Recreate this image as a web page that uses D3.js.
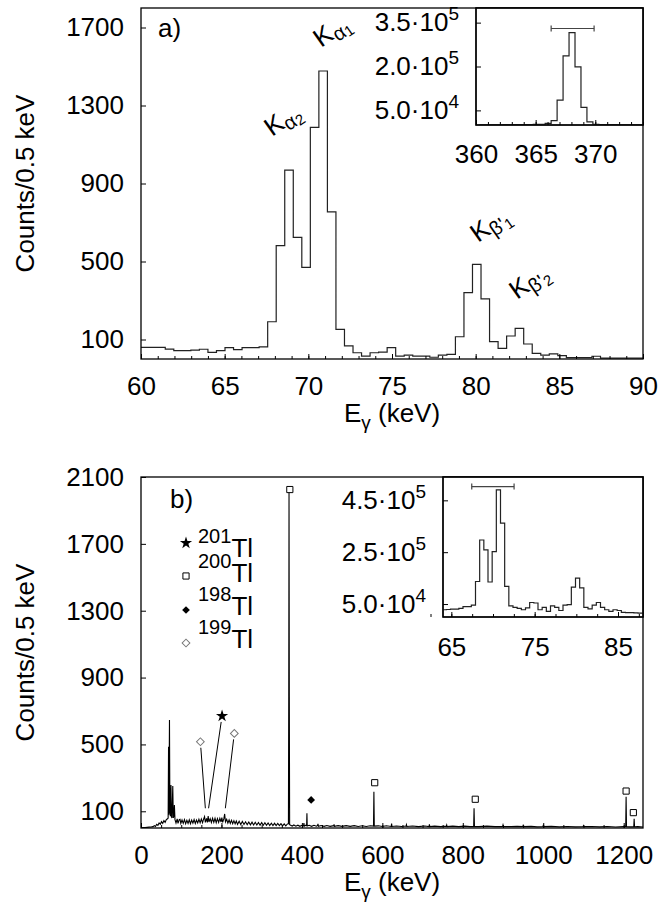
<!DOCTYPE html>
<meta charset="utf-8">
<style>
body { margin: 0; background: #fff; }
svg { display: block; }
text { font-family: "Liberation Sans", Arial, sans-serif; fill: #000; }
.tick line { stroke: #000; stroke-width: 1; }
.tick text { font-size: 26px; }
.frame { fill: none; stroke: #000; stroke-width: 1.3; }
.hist { fill: none; stroke: #222; stroke-width: 1.2; }
.spec { fill: none; stroke: #000; stroke-width: 1.1; }
.gate { stroke: #444; stroke-width: 1.2; }
</style>
<svg width="671" height="903"></svg>

<script src="https://d3js.org/d3.v7.min.js"></script>
<script>
var svg = d3.select("svg");

// panel a) : Hg K x-rays, bins of ~0.51 keV starting at 59.92 keV
var binStartA = 59.92, binWidthA = 0.51;
var countsA = [60, 60, 60, 51, 43, 43, 46, 50, 34, 43,
               58, 48, 58, 58, 62, 191, 581, 969, 624, 470,
               1188, 1477, 755, 152, 67, 32, 15, 32, 35, 58,
               15, 20, 15, 15, 9, 20, 24, 114, 340, 485,
               308, 89, 55, 118, 157, 77, 29, 20, 26, 17,
               7, 7, 7, 14, 4, 4, 4, 4, 4];

// inset a) : 368 keV line (counts in thousands)
var binStartIA = 360.3, binWidthIA = 0.5;
var countsIA = [0.6, 0.8, 0.9, 0.8, 1.0, 1.2, 1.1, 1.4, 1.6, 2.0,
                2.6, 5.8, 14.7, 85, 236, 316, 199, 60, 11, 2.5,
                1.5, 1.2, 1.0, 0.9, 0.8, 0.7, 0.6, 0.6];
var gateIA = [366.3, 369.9], gateIAy = 330;

// panel b) : full spectrum, energy (keV) and counts
var energyB = [0, 5, 10, 15, 20, 25, 30, 33, 36, 39, 42, 45, 48, 51, 54, 57, 60, 63, 66,
    67.5, 68.5, 69.3, 70.8, 71.8, 73, 74.5, 75.5, 77, 79, 80.3, 81.5, 83, 84.5,
    87, 90, 92, 95, 97, 99, 102, 105, 108, 111, 114, 117, 120, 123, 126, 129, 132, 135,
    138, 141, 144, 147, 150, 153, 156, 158, 160, 163, 165, 167, 169, 172, 175, 178, 181,
    184, 187, 190, 193, 196, 199, 201, 203, 206, 208, 210, 213, 216, 219, 222, 225, 228,
    231, 234, 237, 240, 244, 248, 252, 256, 260, 264, 268, 272, 276, 280, 284, 288, 292,
    296, 300, 304, 308, 312, 316, 320, 324, 328, 332, 336, 340, 344, 348, 352, 356, 360,
    364, 366.5, 367.3, 368, 368.7, 369.5, 372, 376, 380, 385, 390, 395, 400, 404, 405,
    406, 410, 411.7, 412.5, 413.3, 418, 424, 430, 436, 439, 440, 441, 448, 455, 462, 470,
    479, 480, 481, 490, 500, 510, 520, 530, 540, 550, 560, 570, 578, 579, 580, 590, 600,
    610, 622, 623, 624, 635, 648, 659, 660, 661, 675, 690, 705, 716, 717, 718, 730, 745,
    759, 760, 761, 775, 790, 805, 818, 827, 828, 829, 840, 860, 880, 899, 900, 901, 920,
    935, 949, 950, 951, 970, 985, 999, 1000, 1001, 1020, 1040, 1060, 1080, 1099, 1100,
    1101, 1120, 1140, 1160, 1180, 1200, 1205, 1206, 1207, 1215, 1225, 1226, 1227, 1235, 1248];
var countsB = [0, 2, 3, 4, 5, 6, 8, 14, 9, 22, 16, 30, 22, 38, 28, 44, 34, 50, 55,
    60, 486, 80, 646, 100, 70, 257, 70, 60, 251, 60, 70, 138, 50,
    30, 55, 28, 50, 52, 27, 48, 28, 50, 26, 46, 28, 49, 26, 47, 29, 51, 27,
    48, 30, 52, 31, 54, 32, 56, 68, 34, 58, 33, 72, 36, 56, 33, 58, 34,
    58, 32, 56, 34, 58, 36, 62, 34, 56, 84, 36, 52, 29, 48, 27, 46, 26,
    44, 25, 42, 22, 40, 21, 39, 21, 37, 20, 36, 19, 35, 18, 34, 18, 33,
    17, 32, 16, 31, 16, 30, 15, 29, 15, 28, 14, 27, 14, 26, 13, 25, 13,
    24, 25, 786, 2010, 786, 20, 17, 12, 18, 11, 17, 10, 16, 12, 30,
    11, 17, 14, 88, 12, 16, 10, 16, 11, 15, 25, 10, 15, 10, 15, 10,
    14, 22, 10, 14, 10, 14, 10, 14, 9, 13, 9, 13, 11, 217, 11, 13, 9,
    13, 9, 27, 9, 12, 9, 12, 20, 9, 12, 8, 12, 8, 22, 8, 11, 8,
    11, 18, 8, 11, 8, 11, 8, 9, 118, 9, 8, 11, 8, 9, 18, 9, 8,
    10, 8, 15, 8, 10, 7, 8, 15, 8, 10, 7, 9, 7, 8, 14,
    8, 9, 7, 9, 6, 8, 8, 187, 8, 7, 7, 55, 7, 8, 6];

// peak markers in panel b): symbol, energy, counts
var markType = ["square", "square", "square", "square", "square", "diamond", "star", "odiamond", "odiamond"];
var markE = [370, 581, 831, 1206, 1224, 423, 201.5, 147.6, 232];
var markC = [2025, 271, 172, 221, 92, 168, 670, 516, 566];
// leader lines from marker (index) to peak (energy, counts)
var leadFrom = [6, 7, 8];
var leadToE = [168, 160, 209.7];
var leadToC = [118, 118, 118];

// legend of b)
var isoMass = ["201", "200", "198", "199"];
var isoSym = ["star", "square", "diamond", "odiamond"];

// inset b) : K x-ray region (counts in thousands)
var binStartIB = 63.9, binWidthIB = 0.5;
var countsIB = [28, 29, 30, 30, 33, 40, 40, 46, 137, 297,
                259, 135, 252, 490, 362, 118, 43, 37, 33, 28,
                35, 56, 54, 28, 37, 22, 43, 37, 25, 46,
                48, 115, 150, 112, 37, 31, 46, 56, 37, 28,
                22, 28, 25, 18, 17, 17, 16, 15, 15];
var gateIB = [67.45, 72.53], gateIBy = 503;

// peak labels in a)
var kLabels = [
  {e: 70.76, c: 1595, sub: "\u03b1", idx: "1"},
  {e: 67.83, c: 1138, sub: "\u03b1", idx: "2"},
  {e: 80.14, c: 595, sub: "\u03b2'", idx: "1"},
  {e: 82.47, c: 303, sub: "\u03b2'", idx: "2"}
];

// ticks
var yTicksA = [100, 500, 900, 1300, 1700];
var xTicksA = [60, 65, 70, 75, 80, 85, 90];
var xTicksIA = [360, 365, 370];
var yTicksIA = [50, 200, 350], yMantIA = ["5.0", "2.0", "3.5"], yExpIA = ["4", "5", "5"];
var yTicksB = [100, 500, 900, 1300, 1700, 2100];
var xTicksB = [0, 200, 400, 600, 800, 1000, 1200];
var xTicksIB = [65, 75, 85];
var yTicksIB = [50, 250, 450], yMantIB = ["5.0", "2.5", "4.5"], yExpIB = ["4", "5", "5"];

// ---- scales ----
var xA = d3.scaleLinear().domain([60, 90]).range([141, 643]);
var yA = d3.scaleLinear().domain([0, 1800]).range([359, 8]);
var xIA = d3.scaleLinear().domain([360, 374]).range([476, 643]);
var yIA = d3.scaleLinear().domain([0, 400]).range([125, 8]);
var xB = d3.scaleLinear().domain([0, 1248]).range([141, 643]);
var yB = d3.scaleLinear().domain([0, 2100]).range([828, 477]);
var xIB = d3.scaleLinear().domain([64, 88]).range([443, 643]);
var yIB = d3.scaleLinear().domain([0, 540]).range([617, 477]);

var defs = svg.append("defs");
var clipN = 0;
function clipFor(x, y) {
    var id = "clip" + (clipN++);
    defs.append("clipPath").attr("id", id).append("rect")
        .attr("x", x.range()[0]).attr("y", y.range()[1])
        .attr("width", x.range()[1] - x.range()[0])
        .attr("height", y.range()[0] - y.range()[1]);
    return "url(#" + id + ")";
}

function histPoints(start, width, counts) {
    var pts = counts.map(function(c, i) { return [start + i * width, c]; });
    pts.push([start + counts.length * width, counts[counts.length - 1]]);
    return pts;
}

function drawHist(x, y, start, width, counts) {
    var line = d3.line()
        .x(function(d) { return x(d[0]); })
        .y(function(d) { return y(d[1]); })
        .curve(d3.curveStepAfter);
    svg.append("path")
        .attr("class", "hist")
        .attr("clip-path", clipFor(x, y))
        .attr("d", line(histPoints(start, width, counts)));
}

function frame(x, y, fill) {
    return svg.append("rect")
        .attr("class", "frame")
        .attr("x", x.range()[0]).attr("y", y.range()[1])
        .attr("width", x.range()[1] - x.range()[0])
        .attr("height", y.range()[0] - y.range()[1])
        .style("fill", fill || "none");
}

function cleanAxis(s) {
    s.select(".domain").remove();
    s.attr("font-size", null).attr("font-family", null);
}

function bottomAxis(x, y, minor, major, pad) {
    svg.append("g").attr("transform", "translate(0," + y.range()[0] + ")")
        .call(d3.axisBottom(x).tickValues(minor).tickSize(-3).tickFormat(""))
        .call(cleanAxis);
    svg.append("g").attr("transform", "translate(0," + y.range()[0] + ")")
        .call(d3.axisBottom(x).tickValues(major).tickSize(-5).tickPadding(pad).tickFormat(d3.format("d")))
        .call(cleanAxis);
}

function leftAxis(x, y, ticks, mant, exp) {
    var g = svg.append("g").attr("transform", "translate(" + x.range()[0] + ",0)")
        .call(d3.axisLeft(y).tickValues(ticks).tickSize(-5).tickPadding(17)
            .tickFormat(mant ? function() { return ""; } : d3.format("d")))
        .call(cleanAxis);
    if (mant) {
        g.selectAll(".tick text").each(function(d, i) {
            var t = d3.select(this);
            t.append("tspan").text(mant[i] + "\u00b710");
            t.append("tspan").attr("dy", -11).style("font-size", "19px").text(exp[i]);
        });
    }
}

function xTitle(x, y) {
    var t = svg.append("text")
        .attr("x", (x.range()[0] + x.range()[1]) / 2)
        .attr("y", y.range()[0] + 63)
        .attr("text-anchor", "middle")
        .style("font-size", "26px");
    t.append("tspan").text("E");
    t.append("tspan").attr("dy", 7).style("font-size", "19px").text("\u03b3");
    t.append("tspan").attr("dy", -7).text(" (keV)");
}

function yTitle(y) {
    svg.append("text")
        .attr("transform", "translate(34," + (y.range()[0] + y.range()[1]) / 2 + ") rotate(-90)")
        .attr("text-anchor", "middle")
        .style("font-size", "26px")
        .text("Counts/0.5 keV");
}

function gate(x, y, range, level) {
    var g = svg.append("g").attr("class", "gate");
    g.append("line").attr("x1", x(range[0])).attr("x2", x(range[1]))
        .attr("y1", y(level)).attr("y2", y(level));
    range.forEach(function(e) {
        g.append("line").attr("x1", x(e)).attr("x2", x(e))
            .attr("y1", y(level) - 3).attr("y2", y(level) + 3);
    });
}

function symbolPath(type) {
    if (type === "star") return d3.symbol().type(d3.symbolStar).size(46)();
    if (type === "square") return d3.symbol().type(d3.symbolSquare).size(38)();
    return d3.symbol().type(d3.symbolSquare).size(30)();
}

function marker(g, type, px, py) {
    var p = g.append("path").attr("d", symbolPath(type));
    var tr = "translate(" + px + "," + py + ")";
    if (type === "diamond" || type === "odiamond") tr += " rotate(45)";
    p.attr("transform", tr);
    if (type === "star" || type === "diamond") p.attr("fill", "#000");
    else if (type === "square") p.attr("fill", "#fff").attr("stroke", "#000").attr("stroke-width", 1);
    else p.attr("fill", "#fff").attr("stroke", "#777").attr("stroke-width", 1);
}

// ================= panel a =================
drawHist(xA, yA, binStartA, binWidthA, countsA);

// rotated K labels, each piece its own text element
kLabels.forEach(function(d) {
    var g = svg.append("g")
        .attr("transform", "translate(" + xA(d.e) + "," + yA(d.c) + ") rotate(-35)");
    var k = g.append("text").attr("x", 0).attr("y", 0).style("font-size", "26px").text("K");
    var kw = k.node().getComputedTextLength();
    var s = g.append("text").attr("x", kw).attr("y", 5).style("font-size", "20px").text(d.sub);
    var sw = s.node().getComputedTextLength();
    g.append("text").attr("x", kw + sw).attr("y", 7).style("font-size", "15px").text(d.idx);
});

svg.append("text").attr("x", xA.range()[0] + 17).attr("y", yA.range()[1] + 29)
    .style("font-size", "26px").text("a)");

bottomAxis(xA, yA, d3.range(60, 91, 1), xTicksA, 18);
leftAxis(xA, yA, yTicksA);
frame(xA, yA);
xTitle(xA, yA);
yTitle(yA);

// inset a
frame(xIA, yIA, "#fff");
drawHist(xIA, yIA, binStartIA, binWidthIA, countsIA);
gate(xIA, yIA, gateIA, gateIAy);
bottomAxis(xIA, yIA, d3.range(360, 375, 1), xTicksIA, 20);
leftAxis(xIA, yIA, yTicksIA, yMantIA, yExpIA);
frame(xIA, yIA);

// ================= panel b =================
var lineB = d3.line()
    .x(function(d, i) { return xB(energyB[i]); })
    .y(function(d) { return yB(d); });
svg.append("path").attr("class", "spec")
    .attr("clip-path", clipFor(xB, yB))
    .attr("d", lineB(countsB));

var gm = svg.append("g");
leadFrom.forEach(function(m, i) {
    var x0 = xB(markE[m]), y0 = yB(markC[m]);
    var x1 = xB(leadToE[i]), y1 = yB(leadToC[i]);
    var len = Math.hypot(x1 - x0, y1 - y0);
    gm.append("line")
        .attr("x1", x0 + (x1 - x0) * 6 / len).attr("y1", y0 + (y1 - y0) * 6 / len)
        .attr("x2", x1).attr("y2", y1)
        .attr("stroke", "#000").attr("stroke-width", 1);
});
markType.forEach(function(t, i) { marker(gm, t, xB(markE[i]), yB(markC[i])); });

// legend
var legText = [0, 25, 58, 91];     // baselines of the mass numbers, relative
var legMark = [0, 33, 67, 100];    // marker rows, relative
var lx = xB.range()[0], ly = yB.range()[1];
isoMass.forEach(function(m, i) {
    marker(svg, isoSym[i], lx + 45, ly + 66 + legMark[i]);
    var t = svg.append("text").attr("x", lx + 57).attr("y", ly + 66 + legText[i]);
    t.append("tspan").style("font-size", "20px").text(m);
    t.append("tspan").attr("dy", 14).style("font-size", "26px").text("Tl");
});

svg.append("text").attr("x", xB.range()[0] + 29).attr("y", yB.range()[1] + 31)
    .style("font-size", "26px").text("b)");

bottomAxis(xB, yB, d3.range(0, 1248, 50), xTicksB, 18);
leftAxis(xB, yB, yTicksB);
frame(xB, yB);
xTitle(xB, yB);
yTitle(yB);

// inset b
frame(xIB, yIB, "#fff");
drawHist(xIB, yIB, binStartIB, binWidthIB, countsIB);
gate(xIB, yIB, gateIB, gateIBy);
bottomAxis(xIB, yIB, d3.range(62.5, 88.1, 2.5), xTicksIB, 21);
leftAxis(xIB, yIB, yTicksIB, yMantIB, yExpIB);
frame(xIB, yIB);
</script>
